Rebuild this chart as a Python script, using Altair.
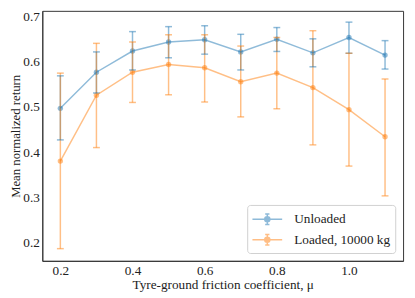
import altair as alt
import pandas as pd

mu = [0.2, 0.3, 0.4, 0.5, 0.6, 0.7, 0.8, 0.9, 1.0, 1.1]
series_names = ["Unloaded", "Loaded, 10000 kg"]

unloaded_mean = [0.497, 0.577, 0.624, 0.644, 0.649, 0.622, 0.650, 0.620, 0.654, 0.615]
unloaded_lo = [0.427, 0.531, 0.582, 0.609, 0.617, 0.582, 0.623, 0.589, 0.619, 0.584]
unloaded_hi = [0.569, 0.622, 0.667, 0.678, 0.680, 0.661, 0.676, 0.651, 0.688, 0.647]

loaded_mean = [0.380, 0.526, 0.577, 0.594, 0.587, 0.556, 0.575, 0.543, 0.494, 0.434]
loaded_lo = [0.186, 0.410, 0.510, 0.527, 0.511, 0.478, 0.496, 0.416, 0.369, 0.303]
loaded_hi = [0.575, 0.641, 0.644, 0.660, 0.660, 0.635, 0.654, 0.669, 0.619, 0.562]

colors = ["#1f77b4", "#ff7f0e"]
x_ticks = [0.2, 0.4, 0.6, 0.8, 1.0]
y_ticks = [0.2, 0.3, 0.4, 0.5, 0.6, 0.7]

rows = []
for name, means, los, his in [
    (series_names[0], unloaded_mean, unloaded_lo, unloaded_hi),
    (series_names[1], loaded_mean, loaded_lo, loaded_hi),
]:
    for m, v, lo, hi in zip(mu, means, los, his):
        rows.append({"series": name, "mu": m, "mean": v, "lo": lo, "hi": hi})
df = pd.DataFrame(rows)

FONT = "Liberation Serif"
FS = 13.5

x = alt.X("mu:Q", scale=alt.Scale(domain=[0.15, 1.15], nice=False, zero=False),
          axis=alt.Axis(values=x_ticks, format=".1f", title="Tyre-ground friction coefficient, μ",
                        grid=False, tickSize=0, labelPadding=3, titlePadding=1))
y_axis = alt.Axis(values=y_ticks, format=".1f", title="Mean normalized return",
                  grid=False, tickSize=0, labelPadding=3, titlePadding=0, titleFontSize=13)
yscale = alt.Scale(domain=[0.159, 0.713], nice=False, zero=False)
cscale = alt.Scale(domain=series_names, range=colors)

legend_path = ("M-1.75,0H1.75M0,-0.62V0.62M-0.25,-0.62H0.25M-0.25,0.62H0.25"
               "M0.3,0A0.3,0.3,0,1,1,-0.3,0A0.3,0.3,0,1,1,0.3,0Z")
legend = alt.Legend(
    title=None, orient="bottom-right", offset=8,
    symbolType=legend_path, symbolSize=300, symbolStrokeWidth=1.5, symbolOpacity=0.5,
    labelFont=FONT, labelFontSize=FS, labelColor="#222", labelOffset=18,
    strokeColor="#d0d0d0", fillColor="rgba(255,255,255,0.8)", cornerRadius=3,
    padding=5, rowPadding=3, symbolOffset=6,
)

base = alt.Chart(df)

points = base.mark_point(filled=True, size=30, opacity=0.5).encode(
    x=x, y=alt.Y("mean:Q", scale=yscale, axis=y_axis),
    color=alt.Color("series:N", scale=cscale, legend=legend),
)
rules = base.mark_rule(strokeWidth=1.5, opacity=0.5).encode(
    x="mu:Q", y="lo:Q", y2="hi:Q", color="series:N")
cap_lo = base.mark_tick(thickness=1.5, size=7, orient="horizontal", opacity=0.5).encode(
    x="mu:Q", y="lo:Q", color="series:N")
cap_hi = base.mark_tick(thickness=1.5, size=7, orient="horizontal", opacity=0.5).encode(
    x="mu:Q", y="hi:Q", color="series:N")
line = base.mark_line(strokeWidth=1.5, opacity=0.5).encode(
    x="mu:Q", y="mean:Q", color="series:N")

chart = alt.layer(points, rules, cap_lo, cap_hi, line).properties(
    width=368, height=255,
    autosize=alt.AutoSizeParams(type="none"),
    padding={"left": 35, "top": 0, "right": 4, "bottom": 35},
).configure_view(stroke="#333", strokeWidth=1).configure_axis(
    labelFont=FONT, titleFont=FONT, labelFontSize=FS, titleFontSize=FS,
    labelColor="#222", titleColor="#222", titleFontWeight="normal",
    domainColor="#333", domainWidth=1,
)

chart.save("out.html", embed_options={"renderer": "svg", "actions": False})
